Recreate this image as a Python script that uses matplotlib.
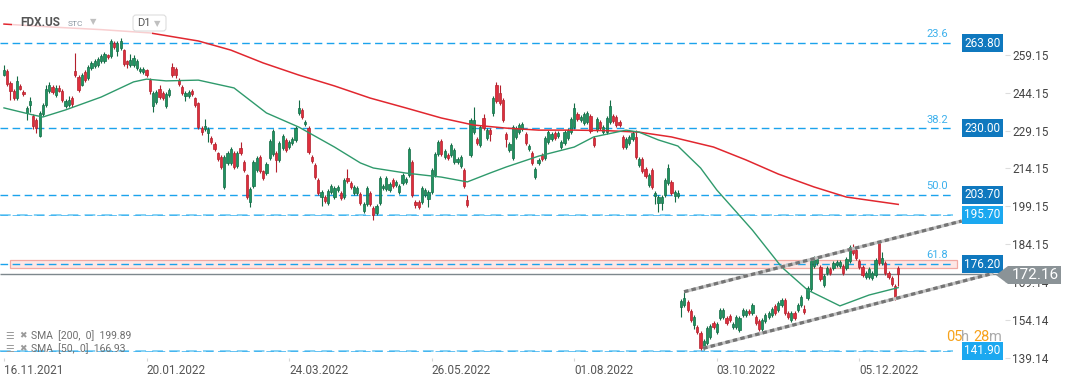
import matplotlib
matplotlib.use("Agg")
import matplotlib.pyplot as plt
from matplotlib.patches import Rectangle, Polygon, FancyBboxPatch
from matplotlib.transforms import IdentityTransform
import numpy as np

plt.rcParams['font.family'] = ['Roboto', 'DejaVu Sans']

# ---- daily candles, FDX.US D1 ----
opens = [
    251.2, 252.7, 248.0, 244.8, 242.0, 246.8, 244.4, 236.1, 239.3, 234.9,
    233.3, 227.0, 235.7, 239.3, 244.8, 246.4, 243.2, 246.0, 244.8, 238.9,
    239.3, 242.0, 252.7, 250.3, 247.2, 252.3, 249.9, 253.9, 254.7, 255.1,
    256.7, 256.7, 259.0, 258.7, 263.8, 260.6, 261.8, 261.0, 256.7, 255.1,
    255.1, 253.9, 252.7, 252.3, 253.1, 249.2, 238.9, 240.4, 245.6, 244.0,
    238.9, 243.2, 254.3, 253.5, 249.2, 246.4, 242.8, 242.8, 244.8, 242.0,
    240.0, 230.1, 229.7, 228.2, 226.2, 223.8, 220.2, 218.7, 206.8, 216.3,
    216.3, 220.2, 215.1, 222.2, 216.7, 211.5, 200.8, 207.2, 213.5, 218.7,
    213.1, 212.3, 218.3, 219.8, 220.2, 217.5, 222.2, 225.4, 222.6, 224.2,
    225.4, 236.1, 237.3, 231.7, 230.1, 218.7, 215.5, 209.5, 202.8, 202.8,
    200.4, 204.8, 202.8, 205.6, 204.4, 202.8, 210.3, 208.4, 204.4, 204.4,
    204.0, 197.3, 200.0, 204.4, 198.5, 196.5, 200.4, 206.4, 206.0, 205.6,
    209.5, 207.6, 204.8, 208.4, 208.8, 211.5, 216.7, 200.8, 200.8, 200.8,
    203.6, 202.0, 204.8, 211.5, 219.8, 225.0, 218.7, 219.5, 219.5, 216.7,
    216.7, 215.1, 213.5, 201.6, 219.5, 228.6, 225.8, 223.4, 234.1, 226.2,
    229.3, 236.1, 247.2, 244.0, 241.2, 227.8, 221.4, 218.3, 226.6, 228.6,
    229.7, 227.8, 221.8, 220.2, 210.7, 216.3, 219.5, 218.3, 224.6, 225.8,
    228.2, 227.0, 222.6, 224.2, 226.2, 228.6, 230.5, 235.7, 233.3, 232.1,
    232.5, 234.9, 226.2, 229.3, 232.5, 228.6, 228.6, 232.5, 234.9, 234.5,
    232.5, 226.6, 222.6, 224.2, 225.8, 226.6, 215.5, 217.9, 213.9, 207.6,
    213.5, 203.2, 200.4, 200.4, 203.6, 208.4, 208.8, 203.2, 203.2, 159.3,
    160.1, 161.2, 157.7, 152.1, 151.3, 149.0, 143.0, 145.0, 147.4, 152.9,
    149.4, 154.9, 155.3, 154.9, 155.7, 151.3, 151.3, 150.1, 156.1, 156.1,
    157.7, 156.9, 155.3, 153.7, 150.5, 153.7, 155.3, 156.1, 159.7, 158.1,
    160.1, 162.0, 156.9, 154.1, 156.9, 158.1, 160.1, 158.5, 162.8, 166.4,
    175.5, 176.7, 175.1, 168.0, 172.7, 174.3, 174.7, 175.9, 175.5, 175.5,
    174.7, 177.5, 182.2, 181.8, 177.5, 175.1, 171.1, 171.1, 170.7, 171.9,
    184.6, 176.7, 176.7, 172.7, 170.7, 167.6, 174.7]

closes = [
    253.2, 247.6, 244.8, 242.0, 248.8, 245.6, 243.6, 238.1, 240.8, 230.9,
    230.1, 236.1, 239.3, 245.6, 247.2, 244.4, 246.0, 244.8, 241.2, 240.8,
    241.2, 239.6, 251.1, 245.2, 251.1, 249.2, 254.3, 255.9, 256.7, 257.5,
    258.7, 259.4, 258.3, 264.6, 262.2, 263.8, 264.6, 255.5, 255.5, 257.1,
    257.9, 256.7, 253.5, 253.5, 251.1, 244.8, 244.0, 244.4, 242.4, 242.0,
    243.6, 245.2, 251.1, 251.1, 247.6, 244.0, 244.0, 244.4, 243.6, 239.3,
    230.5, 228.6, 230.9, 229.7, 224.6, 221.8, 217.9, 214.7, 218.7, 220.2,
    221.8, 214.7, 220.2, 220.2, 213.5, 202.8, 206.0, 216.7, 218.3, 213.1,
    210.3, 215.9, 225.0, 229.0, 217.5, 224.2, 227.0, 221.4, 224.6, 225.8,
    230.1, 238.1, 234.5, 232.5, 220.6, 217.1, 210.7, 204.4, 204.8, 201.2,
    205.2, 207.2, 206.4, 206.8, 202.4, 209.5, 209.2, 206.8, 206.8, 206.4,
    200.4, 200.0, 206.4, 200.0, 195.7, 199.3, 210.3, 207.2, 210.3, 208.0,
    207.2, 208.8, 207.2, 211.5, 209.9, 221.8, 203.6, 199.6, 198.9, 206.4,
    205.6, 204.8, 213.5, 219.8, 224.6, 219.8, 221.0, 218.3, 223.4, 221.4,
    217.9, 218.7, 207.2, 199.6, 233.3, 233.3, 224.2, 230.5, 230.1, 229.3,
    227.8, 242.0, 240.8, 240.0, 233.3, 225.8, 223.8, 230.5, 230.1, 231.3,
    231.7, 224.2, 223.0, 216.3, 213.9, 217.5, 217.9, 226.2, 228.6, 227.8,
    226.2, 228.2, 224.6, 228.6, 229.3, 233.7, 238.1, 233.7, 234.5, 235.7,
    236.1, 229.0, 223.4, 233.7, 230.1, 230.5, 234.1, 238.9, 232.9, 231.3,
    231.3, 222.6, 225.8, 226.6, 228.2, 218.7, 217.9, 213.1, 211.1, 211.5,
    206.8, 204.4, 202.8, 202.8, 209.5, 214.3, 204.4, 204.8, 204.4, 161.6,
    162.8, 158.1, 154.1, 155.3, 149.4, 143.0, 145.8, 150.9, 151.7, 151.3,
    152.5, 158.1, 158.1, 152.9, 154.1, 152.5, 155.3, 154.9, 158.1, 157.7,
    156.9, 160.1, 152.9, 150.5, 154.1, 156.1, 156.9, 158.5, 156.9, 160.8,
    162.0, 156.9, 155.3, 156.9, 154.9, 160.1, 163.2, 157.3, 166.8, 177.9,
    178.7, 178.3, 170.3, 171.5, 174.7, 172.7, 176.7, 177.1, 177.1, 172.7,
    178.3, 183.0, 180.6, 178.7, 175.1, 171.9, 172.7, 174.3, 172.7, 177.9,
    176.7, 178.7, 172.7, 171.1, 168.4, 162.8, 172.16]

highs = [
    255.2, 253.4, 248.6, 245.4, 250.7, 247.4, 245.0, 239.0, 242.6, 235.6,
    234.0, 237.0, 240.0, 247.0, 248.4, 247.0, 247.0, 247.0, 245.6, 241.6,
    243.0, 243.0, 259.8, 251.0, 252.0, 253.0, 255.0, 256.6, 257.6, 258.4,
    259.6, 260.2, 259.6, 265.2, 264.6, 264.6, 265.6, 261.6, 257.2, 259.6,
    259.0, 257.4, 254.4, 254.2, 253.6, 249.8, 244.8, 245.2, 247.0, 244.6,
    244.4, 246.0, 255.9, 254.2, 249.8, 247.0, 244.8, 245.0, 245.4, 242.6,
    240.6, 230.8, 233.7, 230.4, 226.8, 224.4, 220.8, 219.3, 219.5, 221.0,
    222.6, 221.0, 221.0, 224.6, 217.3, 212.0, 206.8, 217.5, 219.0, 219.5,
    213.7, 216.7, 225.8, 229.7, 221.0, 225.0, 227.8, 226.2, 225.4, 226.6,
    231.0, 241.2, 238.1, 233.3, 230.9, 219.5, 216.3, 210.3, 205.6, 203.6,
    206.0, 208.0, 207.2, 207.6, 205.2, 210.3, 213.9, 209.2, 207.6, 207.2,
    204.8, 200.8, 207.2, 205.2, 199.3, 200.0, 211.1, 208.0, 211.1, 208.8,
    210.3, 209.5, 208.0, 212.3, 210.7, 222.6, 217.5, 201.6, 201.6, 207.2,
    206.4, 205.6, 214.3, 220.6, 225.4, 225.8, 221.8, 220.2, 224.2, 222.2,
    218.7, 219.5, 214.3, 203.6, 234.1, 238.5, 226.6, 231.3, 235.7, 230.1,
    230.1, 242.8, 248.4, 247.2, 242.0, 228.6, 224.6, 231.3, 230.9, 232.1,
    232.5, 228.6, 223.8, 221.0, 214.7, 218.3, 220.2, 227.0, 229.3, 228.6,
    229.0, 229.0, 225.4, 229.3, 230.1, 234.5, 240.0, 236.5, 235.3, 236.5,
    236.9, 235.7, 227.0, 234.5, 233.3, 231.3, 234.9, 241.2, 235.7, 235.3,
    233.3, 227.4, 226.6, 227.4, 229.0, 229.3, 218.7, 218.7, 214.7, 212.3,
    214.3, 205.2, 203.6, 203.6, 210.3, 215.9, 209.5, 205.6, 205.6, 162.4,
    165.2, 162.0, 158.5, 156.1, 152.1, 149.8, 146.6, 151.7, 152.5, 153.7,
    153.3, 158.9, 158.9, 155.7, 156.5, 153.3, 156.1, 155.7, 158.9, 158.5,
    158.5, 160.8, 156.1, 154.5, 154.9, 156.9, 157.7, 159.3, 160.5, 161.6,
    162.8, 162.8, 157.7, 157.7, 157.7, 160.8, 164.0, 160.0, 167.6, 178.7,
    179.5, 179.5, 175.9, 172.3, 175.5, 175.1, 177.5, 177.9, 177.9, 176.3,
    179.1, 183.8, 184.2, 182.6, 178.3, 175.9, 173.5, 175.1, 173.5, 178.7,
    185.0, 181.0, 177.5, 173.5, 171.5, 168.4, 175.5]

lows = [
    250.6, 246.8, 241.4, 241.2, 241.4, 245.0, 243.0, 233.5, 236.5, 229.8,
    228.2, 226.4, 235.0, 238.6, 244.0, 243.6, 242.4, 244.2, 240.4, 238.2,
    238.6, 238.6, 250.4, 244.4, 246.6, 248.4, 249.2, 253.2, 254.0, 254.4,
    256.0, 256.0, 257.6, 258.0, 261.4, 258.6, 261.0, 254.6, 254.0, 254.4,
    254.2, 253.2, 252.0, 251.6, 250.4, 243.6, 236.5, 239.6, 241.6, 241.2,
    238.2, 242.6, 250.4, 250.0, 246.8, 243.2, 241.0, 242.0, 243.0, 238.6,
    229.8, 227.4, 229.0, 224.6, 223.8, 221.0, 217.1, 213.9, 206.0, 215.5,
    215.5, 213.9, 214.3, 219.5, 212.7, 202.0, 198.9, 206.4, 212.7, 212.3,
    209.5, 211.5, 217.5, 219.0, 212.7, 216.7, 221.4, 220.6, 221.8, 223.4,
    224.6, 235.3, 233.7, 231.0, 219.8, 216.3, 209.9, 203.6, 199.3, 200.4,
    199.6, 204.0, 202.0, 204.8, 201.6, 202.0, 208.4, 206.0, 203.6, 203.6,
    199.6, 196.5, 199.3, 199.3, 193.7, 195.7, 199.6, 205.6, 205.2, 204.8,
    206.4, 206.8, 204.0, 207.6, 208.0, 210.7, 202.8, 198.5, 198.1, 200.0,
    202.8, 198.9, 204.0, 210.7, 219.0, 219.0, 218.0, 217.5, 218.7, 215.9,
    215.9, 214.3, 206.4, 198.9, 218.7, 227.8, 223.4, 222.6, 229.3, 225.4,
    225.0, 234.9, 240.0, 239.3, 232.5, 222.6, 220.6, 217.5, 225.8, 227.8,
    229.0, 223.4, 221.0, 215.5, 209.9, 215.5, 217.1, 217.5, 223.8, 225.0,
    225.4, 226.2, 221.8, 223.4, 225.4, 227.8, 229.7, 232.9, 232.5, 231.3,
    231.7, 228.2, 222.6, 228.6, 229.3, 227.8, 227.8, 231.7, 232.1, 230.5,
    230.5, 221.8, 221.8, 223.4, 225.0, 217.9, 214.7, 212.3, 210.3, 206.8,
    206.0, 200.0, 196.9, 197.7, 202.8, 207.6, 203.6, 200.8, 202.4, 155.3,
    159.3, 157.3, 153.3, 150.5, 148.6, 142.2, 142.2, 144.2, 146.6, 150.5,
    148.6, 154.1, 154.5, 152.1, 153.3, 150.5, 150.5, 149.4, 155.3, 155.3,
    156.1, 156.1, 152.1, 149.8, 149.8, 152.9, 154.5, 155.3, 156.1, 157.3,
    159.3, 156.1, 154.5, 153.3, 154.1, 157.3, 159.3, 156.5, 162.0, 165.6,
    174.7, 175.9, 169.5, 167.2, 171.9, 171.9, 173.9, 175.1, 174.7, 171.9,
    173.9, 176.7, 179.8, 177.9, 174.3, 171.1, 170.3, 170.3, 169.9, 171.1,
    175.9, 175.9, 171.9, 170.3, 167.6, 162.0, 167.6]

# moving averages, sampled along the drawn lines (bar index, value)
sma200_idx = [0, 15, 30, 45, 60, 70, 80, 91, 102, 113, 124, 135, 145, 155, 165,
              176, 186, 196, 206, 219, 229, 239, 250, 260, 276]
sma200_val = [271.3, 270.1, 269.1, 267.8, 264.6, 261.0, 255.9, 251.1, 246.8, 242.0,
              238.1, 234.1, 231.3, 230.1, 229.3, 229.3, 229.1, 228.5, 226.6, 222.6,
              217.5, 211.9, 206.8, 202.8, 199.89]
sma50_idx = [0, 9, 12, 19, 30, 40, 44, 50, 60, 71, 81, 91, 102, 110, 114, 124, 135,
             143, 150, 155, 165, 176, 182, 192, 196, 202, 208, 215, 220, 231, 240,
             248, 258, 267, 276]
sma50_val = [238.1, 235.3, 234.5, 237.3, 242.4, 248.4, 249.5, 248.8, 249.1, 246.0,
             236.1, 230.5, 222.6, 216.3, 214.3, 212.3, 210.7, 208.8, 212.3, 214.7,
             219.0, 222.6, 226.6, 229.3, 228.5, 225.4, 223.0, 214.3, 205.6, 189.7,
             175.1, 166.0, 159.7, 164.0, 166.93]

# fibonacci levels
fib_prices = [263.80, 230.00, 203.70, 195.70, 176.20, 141.90]
fib_ratios = ['23.6', '38.2', '50.0', '', '61.8', '']
fib_main = [True, True, True, False, True, False]

# price channel (bar index, price)
channel_upper = [(209.9, 165.3), (295.6, 193.3)]
channel_lower = [(215.8, 142.9), (305.3, 172.6)]

last_price = 172.16
zone = (174.8, 177.8)

date_pos = [0, 44, 88, 132, 176, 220, 264]
date_labels = ['16.11.2021', '20.01.2022', '24.03.2022', '26.05.2022',
               '01.08.2022', '03.10.2022', '05.12.2022']
price_ticks = [259.15, 244.15, 229.15, 214.15, 199.15, 184.15, 169.14, 154.14, 139.14]

# ---- figure ----
W, H = 1072, 382
fig = plt.figure(figsize=(W / 100, H / 100), dpi=100)
ax = fig.add_axes([0, 1 - 358 / H, 1005 / W, 358 / H])
x0, x1 = -1.23, 308.95
ax.set_xlim(x0, x1)
ax.set_ylim(139.06, 280.83)
for s in ax.spines.values():
    s.set_visible(False)

o = np.array(opens)
c = np.array(closes)
hi = np.array(highs)
lo = np.array(lows)
idx = np.arange(len(c))
up = c >= o

GREEN, GREEN_E = '#1f9461', '#136b45'
RED, RED_E = '#df2e3c', '#b3202c'

bot = np.minimum(o, c)
hgt = np.maximum(np.abs(c - o), 0.45)
for mask, fc, ec in [(up, GREEN, GREEN_E), (~up, RED, RED_E)]:
    ax.vlines(idx[mask], lo[mask], hi[mask], color=ec, lw=0.8, zorder=3)
    ax.bar(idx[mask], hgt[mask], bottom=bot[mask], width=0.68, color=fc,
           edgecolor=ec, linewidth=0.5, zorder=4)

# fib lines
fib_end = x0 + 953 / 3.24
for p, r, main in zip(fib_prices, fib_ratios, fib_main):
    if main:
        ax.hlines(p, x0, fib_end, color='#1ba3ec', lw=1.0, ls=(0, (5.5, 3.2)), zorder=2)
    else:
        ax.hlines(p, x0, fib_end, color='#86d2f5', lw=1.4, ls=(0, (5.5, 3.2)), zorder=2)
        ax.hlines(p, x0, fib_end, color='#2aa9ee', lw=0.5, ls=(0, (11, 6.4)), zorder=2.1)
    if r:
        ax.text(x0 + 948 / 3.24, p + 1.5, r, ha='right', va='bottom', fontsize=8,
                color='#3cb0ec', zorder=6)
    ax.text(x0 + 982.5 / 3.24, p, f'{p:.2f}', ha='center', va='center', fontsize=8.5,
            color='white', zorder=7,
            bbox=dict(boxstyle='square,pad=0.2', fc='#0f78be' if main else '#1ba8f0',
                      ec='none'))

# pink zone
ax.add_patch(Rectangle((x0 + 10 / 3.24, zone[0]), (957 - 10) / 3.24, zone[1] - zone[0],
                       fc='#fde7e5', ec='#f2a9a2', lw=0.9, zorder=1.5))

# last price line
ax.hlines(last_price, x0, x0 + 1000 / 3.24, color='#7e888d', lw=1.0, zorder=2.5)

# moving averages
ax.plot(sma200_idx, sma200_val, color='#e1272f', lw=1.1, zorder=5)
ax.plot(sma50_idx, sma50_val, color='#2f9a6c', lw=1.0, zorder=5)

# channel
for seg in (channel_upper, channel_lower):
    xs, ys = zip(*seg)
    ax.plot(xs, ys, color='#c4c4c4', lw=2.3, zorder=6, solid_capstyle='butt')
    ax.plot(xs, ys, color='#747474', lw=2.3, ls=(0, (1.4, 1.0)), zorder=6.1)

# axes ticks
ax.set_xticks(date_pos, date_labels)
for lbl in ax.get_xticklabels():
    lbl.set_ha('left')
ax.tick_params(axis='x', length=2.5, color='#d5d5d5', labelsize=8.5,
               labelcolor='#555555', pad=1.5)
ax.yaxis.tick_right()
ax.set_yticks(price_ticks, [f'{v:.2f}' for v in price_ticks])
ax.tick_params(axis='y', length=3.6, color='#dddddd', labelsize=8.5,
               labelcolor='#444444', pad=1.4)


def px(x, y):
    return x, H - y


# last price tag (sits over the 169.14 label, as in the platform view)
tag = [px(996, 275), px(1008, 266), px(1061, 266), px(1061, 284), px(1008, 284)]
fig.patches.append(Polygon(tag, closed=True, fc='#8b9397', ec='none',
                           transform=IdentityTransform(), zorder=5))
fig.text(1035 / W, 1 - 275 / H, f'{last_price:.2f}', ha='center', va='center',
         fontsize=11, color='white', zorder=6)

# header
fig.patches.append(Rectangle(px(12, 36), 140, 24, fc='white', ec='none', alpha=0.78,
                             transform=IdentityTransform(), zorder=2))
fig.text(20 / W, 1 - 22 / H, 'FDX.US', fontsize=8.5, fontweight='bold', color='#555555',
         va='center', zorder=3)
fig.text(68 / W, 1 - 23.5 / H, 'STC', fontsize=6, color='#8a96a0', va='center', zorder=3)
fig.text(90 / W, 1 - 22 / H, '\u25BC', fontsize=6, color='#c0c0c0', va='center', zorder=3)
fig.patches.append(FancyBboxPatch(px(133, 31), 33, 16,
                                  boxstyle='round,pad=0,rounding_size=3',
                                  fc='white', ec='#dddddd', lw=0.8,
                                  transform=IdentityTransform(), zorder=3))
fig.text(137 / W, 1 - 23.5 / H, 'D1', fontsize=8, color='#555555', va='center', zorder=4)
fig.text(154 / W, 1 - 23.5 / H, '\u25BC', fontsize=6, color='#c0c0c0', va='center', zorder=4)

# indicator legend
for yy, label in [(336, 'SMA  [200,  0]  199.89'), (349, 'SMA  [50,  0]  166.93')]:
    fig.text(5 / W, 1 - yy / H, '\u2630', fontsize=7, color='#9a9a9a', va='center')
    fig.text(19 / W, 1 - yy / H, '\u2716', fontsize=6.5, color='#9a9a9a', va='center')
    fig.text(31 / W, 1 - yy / H, label, fontsize=7.5, color='#6e6e6e', va='center')

# countdown
for xx, s, col in [(946, '05', '#f7a21b'), (961, 'h', '#aaaaaa'),
                   (973, '28', '#f7a21b'), (989, 'm', '#aaaaaa')]:
    fig.text(xx / W, 1 - 337 / H, s, fontsize=10.5, color=col, va='center', zorder=4)

fig.savefig('out.png', dpi=100, facecolor='white')
